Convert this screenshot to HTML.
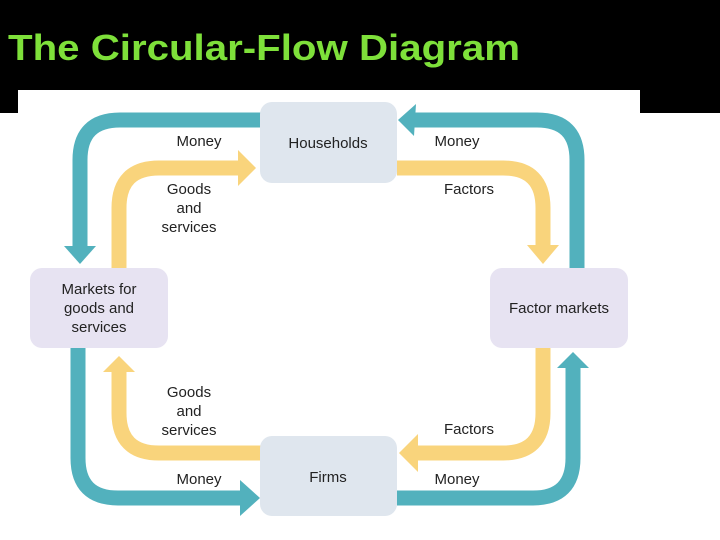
<!DOCTYPE html>
<html><head><meta charset="utf-8"><style>
html,body{margin:0;padding:0;background:#000;}
svg{display:block;}
</style></head><body>
<svg width="720" height="540" viewBox="0 0 720 540" xmlns="http://www.w3.org/2000/svg" font-family="Liberation Sans, sans-serif">
<rect x="0" y="0" width="720" height="540" fill="#000"/>
<rect x="18" y="90" width="622" height="23" fill="#fff"/>
<rect x="0" y="113" width="720" height="427" fill="#fff"/>
<text x="8" y="60" fill="#7ee03a" font-size="36" font-weight="bold" textLength="512" lengthAdjust="spacingAndGlyphs">The Circular-Flow Diagram</text>
<g fill="none" stroke-width="15">
<!-- teal -->
<path d="M262 120 H120 Q80 120 80 160 V250" stroke="#52b1bd"/>
<path d="M410 120 H537 Q577 120 577 160 V268" stroke="#52b1bd"/>
<path d="M78 348 V458 Q78 498 118 498 H245" stroke="#52b1bd"/>
<path d="M397 498 H533 Q573 498 573 458 V365" stroke="#52b1bd"/>
<!-- yellow -->
<path d="M119 268 V208 Q119 168 159 168 H242" stroke="#f9d47c"/>
<path d="M397 168 H503 Q543 168 543 208 V248" stroke="#f9d47c"/>
<path d="M119 370 V413 Q119 453 159 453 H262" stroke="#f9d47c"/>
<path d="M543 348 V413 Q543 453 503 453 H412" stroke="#f9d47c"/>
</g>
<g fill="#52b1bd">
<polygon points="64,246 96,246 80,264"/>
<polygon points="398,120 416,104 414,136"/>
<polygon points="557,368 573,352 589,368"/>
<polygon points="260,498 240,480 240,516"/>
</g>
<g fill="#f9d47c">
<polygon points="256,168 238,150 238,186"/>
<polygon points="527,245 559,245 543,264"/>
<polygon points="103,372 119,356 135,372"/>
<polygon points="399,453 418,434 418,472"/>
</g>
<rect x="260" y="102" width="137" height="81" rx="12" fill="#dfe6ee"/>
<rect x="260" y="436" width="137" height="80" rx="12" fill="#dfe6ee"/>
<rect x="30" y="268" width="138" height="80" rx="12" fill="#e7e3f2"/>
<rect x="490" y="268" width="138" height="80" rx="12" fill="#e7e3f2"/>
<g font-size="15" fill="#222" text-anchor="middle">
<text x="328" y="148">Households</text>
<text x="328" y="482">Firms</text>
<text x="99" y="294">Markets for</text>
<text x="99" y="313">goods and</text>
<text x="99" y="332">services</text>
<text x="559" y="313">Factor markets</text>
<text x="199" y="146">Money</text>
<text x="457" y="146">Money</text>
<text x="199" y="484">Money</text>
<text x="457" y="484">Money</text>
<text x="469" y="194">Factors</text>
<text x="469" y="434">Factors</text>
<text x="189" y="194">Goods</text>
<text x="189" y="213">and</text>
<text x="189" y="232">services</text>
<text x="189" y="397">Goods</text>
<text x="189" y="416">and</text>
<text x="189" y="435">services</text>
</g>
</svg>
</body></html>
